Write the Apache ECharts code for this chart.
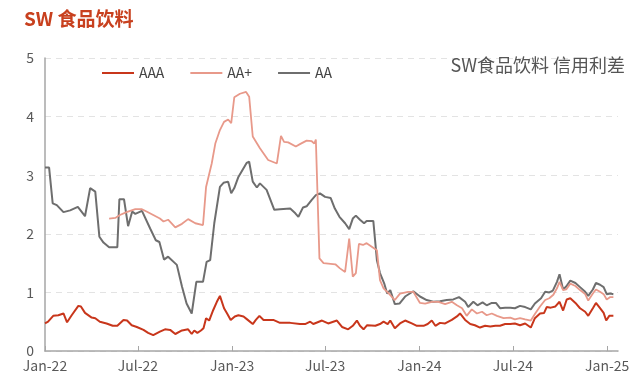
<!DOCTYPE html>
<html><head><meta charset="utf-8">
<script src="https://cdn.jsdelivr.net/npm/echarts@6/dist/echarts.min.js"></script>
<style>html,body{margin:0;padding:0;background:#fff}#c{width:640px;height:386px}</style>
</head><body><div id="c"></div>
<script>
const titleText = 'SW 食品饮料';
const noteText = 'SW食品饮料 信用利差';
const seriesNames = ['AAA', 'AA+', 'AA'];
const tickDates = ['2022-01-01','2022-07-01','2023-01-01','2023-07-01','2024-01-01','2024-07-01','2025-01-01'];
const tickLabels = ['Jan-22','Jul-22','Jan-23','Jul-23','Jan-24','Jul-24','Jan-25'];
const yTicks = [0,1,2,3,4,5];

const aaaDates = ['2022-01-01','2022-01-07','2022-01-17','2022-01-27','2022-02-06','2022-02-13','2022-02-22','2022-03-07','2022-03-12','2022-03-20','2022-04-02','2022-04-09','2022-04-18','2022-05-01','2022-05-13','2022-05-22','2022-06-03','2022-06-10','2022-06-19','2022-06-29','2022-07-12','2022-07-21','2022-07-31','2022-08-13','2022-08-23','2022-09-02','2022-09-12','2022-09-25','2022-10-07','2022-10-14','2022-10-19','2022-10-25','2022-11-01','2022-11-06','2022-11-11','2022-11-17','2022-11-25','2022-12-02','2022-12-08','2022-12-16','2022-12-22','2022-12-29','2023-01-06','2023-01-13','2023-01-23','2023-01-30','2023-02-10','2023-02-16','2023-02-23','2023-03-03','2023-03-22','2023-04-04','2023-04-24','2023-05-13','2023-05-23','2023-06-02','2023-06-08','2023-06-25','2023-07-07','2023-07-24','2023-08-03','2023-08-15','2023-08-24','2023-09-01','2023-09-07','2023-09-14','2023-09-21','2023-10-07','2023-10-16','2023-10-23','2023-10-31','2023-11-05','2023-11-14','2023-11-24','2023-12-04','2023-12-17','2023-12-27','2024-01-09','2024-01-17','2024-01-25','2024-02-01','2024-02-10','2024-02-20','2024-03-04','2024-03-14','2024-03-20','2024-03-30','2024-04-09','2024-04-18','2024-04-28','2024-05-08','2024-05-18','2024-05-28','2024-06-06','2024-06-16','2024-06-26','2024-07-05','2024-07-15','2024-07-25','2024-08-05','2024-08-13','2024-08-23','2024-08-31','2024-09-05','2024-09-13','2024-09-22','2024-09-30','2024-10-07','2024-10-14','2024-10-21','2024-10-31','2024-11-09','2024-11-19','2024-11-25','2024-12-04','2024-12-10','2024-12-18','2024-12-25','2024-12-30','2025-01-05','2025-01-13'];
const aaaValues = [0.47,0.50,0.60,0.61,0.64,0.49,0.61,0.77,0.76,0.65,0.57,0.56,0.50,0.47,0.43,0.43,0.53,0.52,0.44,0.41,0.36,0.31,0.27,0.33,0.37,0.36,0.29,0.35,0.37,0.29,0.35,0.31,0.35,0.39,0.56,0.52,0.70,0.84,0.94,0.73,0.64,0.53,0.59,0.61,0.59,0.54,0.46,0.53,0.60,0.53,0.53,0.48,0.48,0.46,0.46,0.50,0.46,0.52,0.47,0.52,0.41,0.37,0.43,0.52,0.43,0.37,0.44,0.43,0.46,0.50,0.46,0.52,0.39,0.47,0.52,0.47,0.43,0.43,0.46,0.52,0.43,0.48,0.47,0.53,0.59,0.64,0.53,0.46,0.44,0.40,0.43,0.42,0.43,0.43,0.46,0.46,0.47,0.44,0.47,0.40,0.56,0.64,0.65,0.75,0.74,0.76,0.84,0.69,0.88,0.90,0.82,0.73,0.67,0.60,0.73,0.82,0.73,0.65,0.52,0.60,0.60];

const aapDates = ['2022-05-06','2022-05-18','2022-05-27','2022-06-09','2022-06-26','2022-07-09','2022-07-18','2022-07-31','2022-08-13','2022-08-20','2022-08-29','2022-09-12','2022-09-25','2022-10-07','2022-10-21','2022-11-05','2022-11-11','2022-11-22','2022-11-29','2022-12-08','2022-12-16','2022-12-24','2022-12-30','2023-01-05','2023-01-16','2023-01-28','2023-02-03','2023-02-10','2023-02-24','2023-03-12','2023-03-29','2023-04-06','2023-04-12','2023-04-20','2023-05-05','2023-05-13','2023-05-26','2023-06-05','2023-06-10','2023-06-13','2023-06-20','2023-06-28','2023-07-21','2023-07-30','2023-08-09','2023-08-17','2023-08-24','2023-08-30','2023-09-05','2023-09-13','2023-09-20','2023-10-10','2023-10-16','2023-10-23','2023-11-01','2023-11-14','2023-11-24','2023-12-10','2023-12-20','2024-01-02','2024-01-12','2024-01-25','2024-02-07','2024-02-20','2024-03-04','2024-03-14','2024-03-24','2024-04-02','2024-04-12','2024-04-22','2024-05-02','2024-05-11','2024-05-21','2024-05-31','2024-06-13','2024-06-26','2024-07-05','2024-07-15','2024-07-25','2024-08-05','2024-08-13','2024-08-23','2024-09-02','2024-09-10','2024-09-18','2024-09-25','2024-09-30','2024-10-07','2024-10-13','2024-10-21','2024-10-31','2024-11-09','2024-11-19','2024-11-25','2024-12-04','2024-12-10','2024-12-18','2024-12-25','2024-12-31','2025-01-07','2025-01-13'];
const aapValues = [2.26,2.27,2.32,2.37,2.42,2.42,2.38,2.32,2.26,2.21,2.24,2.11,2.17,2.25,2.18,2.15,2.80,3.20,3.54,3.77,3.91,3.95,3.89,4.33,4.39,4.42,4.34,3.66,3.46,3.26,3.20,3.67,3.57,3.56,3.49,3.53,3.59,3.58,3.54,3.61,1.58,1.50,1.48,1.41,1.35,1.92,1.27,1.33,1.83,1.81,1.84,1.72,1.21,1.07,0.99,0.87,0.98,1.01,1.01,0.82,0.81,0.84,0.84,0.80,0.84,0.78,0.73,0.60,0.71,0.64,0.67,0.61,0.64,0.60,0.56,0.57,0.54,0.56,0.54,0.52,0.63,0.76,0.87,0.90,0.96,1.07,1.18,1.04,1.05,1.15,1.11,1.04,0.97,0.86,0.98,1.05,1.01,0.97,0.88,0.92,0.92];

const aaDates = ['2022-01-01','2022-01-09','2022-01-16','2022-01-24','2022-02-06','2022-02-19','2022-03-06','2022-03-20','2022-03-30','2022-04-09','2022-04-17','2022-04-25','2022-05-06','2022-05-22','2022-05-26','2022-06-04','2022-06-12','2022-06-20','2022-06-26','2022-07-09','2022-07-25','2022-08-05','2022-08-12','2022-08-21','2022-08-29','2022-09-15','2022-09-25','2022-10-04','2022-10-14','2022-10-23','2022-11-05','2022-11-12','2022-11-19','2022-11-27','2022-12-08','2022-12-15','2022-12-24','2022-12-30','2023-01-05','2023-01-13','2023-01-23','2023-01-29','2023-02-03','2023-02-10','2023-02-18','2023-02-24','2023-03-09','2023-03-24','2023-04-04','2023-04-24','2023-05-04','2023-05-10','2023-05-19','2023-05-26','2023-06-05','2023-06-13','2023-06-21','2023-07-01','2023-07-12','2023-07-20','2023-07-29','2023-08-09','2023-08-17','2023-08-24','2023-08-30','2023-09-07','2023-09-15','2023-09-20','2023-10-03','2023-10-10','2023-10-16','2023-10-24','2023-10-30','2023-11-05','2023-11-14','2023-11-23','2023-12-04','2023-12-20','2024-01-02','2024-01-15','2024-01-28','2024-02-10','2024-02-23','2024-03-07','2024-03-18','2024-03-30','2024-04-05','2024-04-15','2024-04-23','2024-05-03','2024-05-11','2024-05-21','2024-05-29','2024-06-06','2024-06-16','2024-06-26','2024-07-05','2024-07-15','2024-07-25','2024-08-05','2024-08-13','2024-08-25','2024-09-02','2024-09-10','2024-09-17','2024-09-25','2024-09-30','2024-10-07','2024-10-13','2024-10-21','2024-10-31','2024-11-09','2024-11-19','2024-11-25','2024-12-04','2024-12-10','2024-12-18','2024-12-25','2024-12-31','2025-01-07','2025-01-13'];
const aaValues = [3.13,3.13,2.52,2.49,2.37,2.40,2.46,2.30,2.78,2.72,1.95,1.85,1.77,1.77,2.59,2.59,2.13,2.38,2.34,2.39,2.09,1.89,1.86,1.56,1.61,1.47,1.10,0.81,0.64,1.18,1.18,1.52,1.55,2.18,2.80,2.87,2.89,2.69,2.78,2.97,3.12,3.21,3.23,2.89,2.79,2.86,2.75,2.41,2.42,2.43,2.35,2.29,2.45,2.47,2.58,2.66,2.69,2.63,2.61,2.43,2.29,2.18,2.08,2.26,2.31,2.24,2.18,2.22,2.22,1.55,1.33,1.16,0.98,1.04,0.80,0.81,0.93,1.02,0.93,0.87,0.84,0.85,0.87,0.88,0.92,0.84,0.75,0.84,0.78,0.83,0.78,0.82,0.82,0.73,0.74,0.74,0.73,0.77,0.75,0.71,0.81,0.90,1.01,1.00,1.03,1.18,1.31,1.05,1.10,1.20,1.16,1.09,1.01,0.94,1.05,1.16,1.13,1.09,0.97,0.98,0.97];

const colors = ['#C8361B', '#E8998A', '#6E6E6E'];
const font = '"Noto Sans CJK SC", "Noto Sans", sans-serif';

function ts(s) { const p = s.split('-').map(Number); return Date.UTC(p[0], p[1] - 1, p[2]); }
function pairs(d, v) { return d.map((x, i) => [ts(x), v[i]]); }
const tickTs = tickDates.map(ts);

const chart = echarts.init(document.getElementById('c'), null, {renderer: 'canvas'});
chart.setOption({
  animation: false,
  textStyle: {fontFamily: font},
  title: [
    {text: titleText, left: 19, top: 4, textStyle: {fontFamily: font, fontSize: 19, fontWeight: 'bold', color: '#C8401E'}},
    {text: noteText, right: 10, top: 51, textStyle: {fontFamily: font, fontSize: 18, fontWeight: 'normal', color: '#555'}}
  ],
  legend: {
    data: seriesNames, left: 102, top: 66, padding: 0, icon: 'rect', itemWidth: 32, itemHeight: 2, itemGap: 26,
    textStyle: {fontFamily: font, fontSize: 14, color: '#444'}
  },
  grid: {left: 45, right: 22, top: 58, bottom: 35},
  xAxis: {
    type: 'value',
    min: ts('2022-01-01'), max: ts('2025-01-22'),
    axisLine: {lineStyle: {color: '#A6A6A6', width: 1.5}},
    axisTick: {show: true, inside: true, length: 5, lineStyle: {color: '#A6A6A6'}, customValues: tickTs},
    axisLabel: {
      customValues: tickTs, color: '#595959', fontSize: 14, margin: 8, fontFamily: font,
      formatter: function (v) { const i = tickTs.indexOf(v); return i >= 0 ? tickLabels[i] : ''; }
    },
    splitLine: {show: false}
  },
  yAxis: {
    type: 'value', min: yTicks[0], max: yTicks[yTicks.length - 1], interval: 1,
    axisLine: {show: true, lineStyle: {color: '#A6A6A6', width: 1.5}},
    axisTick: {show: false},
    axisLabel: {color: '#595959', fontSize: 14, margin: 11, fontFamily: font},
    splitLine: {show: true, lineStyle: {color: '#E3E3E3', type: [6, 5], width: 1}}
  },
  series: [
    {name: seriesNames[0], type: 'line', data: pairs(aaaDates, aaaValues), symbol: 'none', color: colors[0], lineStyle: {width: 2}, z: 4},
    {name: seriesNames[1], type: 'line', data: pairs(aapDates, aapValues), symbol: 'none', color: colors[1], lineStyle: {width: 1.8}, z: 3},
    {name: seriesNames[2], type: 'line', data: pairs(aaDates, aaValues), symbol: 'none', color: colors[2], lineStyle: {width: 2}, z: 2}
  ]
});
</script></body></html>
